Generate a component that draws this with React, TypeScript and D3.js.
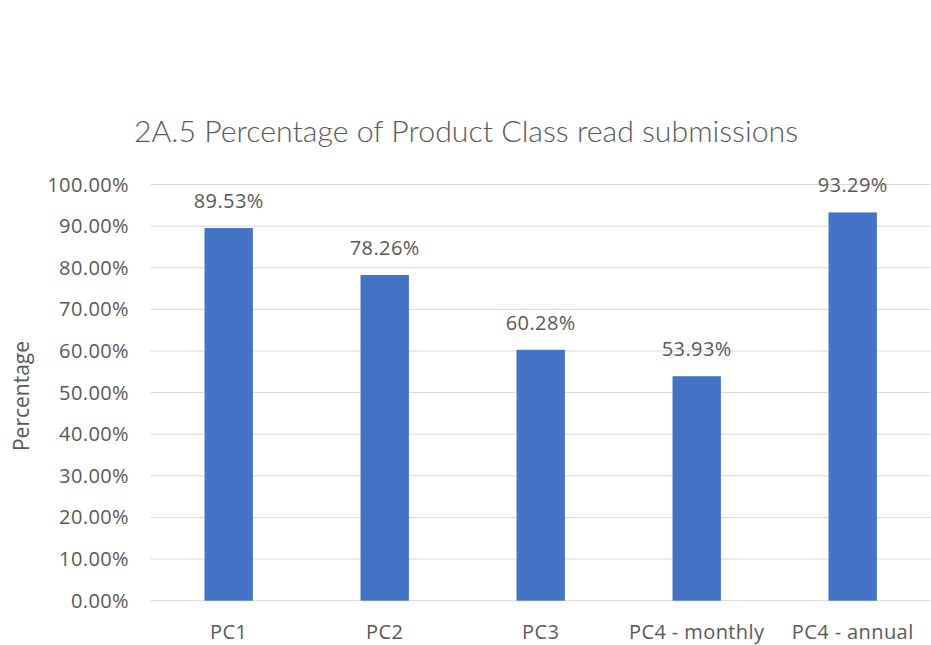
import React from "react";
import * as d3 from "d3";

const categories = ["PC1", "PC2", "PC3", "PC4 - monthly", "PC4 - annual"];
const values = [89.53, 78.26, 60.28, 53.93, 93.29];
const yTicks = [0, 10, 20, 30, 40, 50, 60, 70, 80, 90, 100];
const title = "2A.5 Percentage of Product Class read submissions";
const yLabel = "Percentage";

export default function App() {
  const W = 931, H = 645;
  const x = d3.scaleBand<string>().domain(categories).range([150.7, 930.7]).paddingInner(0.69).paddingOuter(0.345);
  const y = d3.scaleLinear().domain([0, 100]).range([600.7, 184.5]);
  const font = "'Open Sans', sans-serif";
  const titleFont = "Lato, 'Open Sans', sans-serif";
  const txt = "#595959";
  const ls = 0.4;
  return (
    <svg width={W} height={H} style={{ position: "absolute", left: 0, top: 0, background: "#fff" }}>
      <rect width={W} height={H} fill="#fff" />
      <text x={466} y={142} textAnchor="middle" fontFamily={titleFont} fontWeight={300} fontSize={29} fill={txt} textLength={664} lengthAdjust="spacingAndGlyphs">{title}</text>
      {yTicks.map((t) => (
        <g key={t}>
          <line x1={150.7} x2={930.7} y1={y(t)} y2={y(t)} stroke="#d9d9d9" strokeWidth={1} />
          <text x={129} y={y(t)} dy="0.35em" textAnchor="end" fontFamily={font} fontSize={20} letterSpacing={ls} fill={txt}>{t.toFixed(2) + "%"}</text>
        </g>
      ))}
      {categories.map((c, i) => (
        <g key={c}>
          <rect x={x(c)} y={y(values[i])} width={x.bandwidth()} height={y(0) - y(values[i])} fill="#4472C4" />
          <text x={(x(c) as number) + x.bandwidth() / 2} y={y(values[i]) - 20} textAnchor="middle" fontFamily={font} fontSize={20} letterSpacing={ls} fill={txt}>{values[i].toFixed(2) + "%"}</text>
          <text x={(x(c) as number) + x.bandwidth() / 2} y={639} textAnchor="middle" fontFamily={font} fontSize={20} letterSpacing={ls} fill={txt}>{c}</text>
        </g>
      ))}
      <text transform={`translate(29,396) rotate(-90)`} textAnchor="middle" fontFamily={font} fontSize={21} fill={txt}>{yLabel}</text>
    </svg>
  );
}
